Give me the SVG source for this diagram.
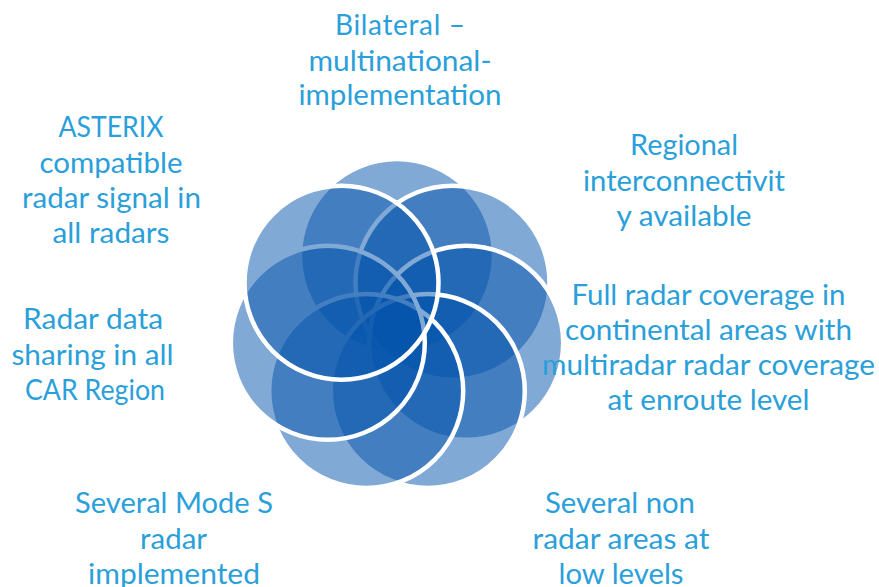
<svg xmlns="http://www.w3.org/2000/svg" width="879" height="587" viewBox="0 0 879 587">
<style>
.c{fill:#0353AB;fill-opacity:0.5;stroke:#FFFFFF;stroke-width:4.5}
.t{font-family:Lato,"Liberation Sans",sans-serif;font-size:28px;fill:#2A9FDA;text-anchor:middle}
</style>
<rect width="879" height="587" fill="#FFFFFF"/>
<g id="node-bilateral">
<circle class="c" cx="397" cy="256" r="97"/>
<text class="t" lengthAdjust="spacingAndGlyphs"><tspan x="400" y="35" textLength="130">Bilateral –</tspan></text>
<text class="t"><tspan x="400" y="70.5" textLength="183" lengthAdjust="spacingAndGlyphs">multinational-</tspan></text>
<text class="t"><tspan x="400" y="105" textLength="203" lengthAdjust="spacingAndGlyphs">implementation</tspan></text>
</g>
<g id="node-regional">
<circle class="c" cx="452.5" cy="282.7" r="97"/>
<text class="t" x="684" y="155" textLength="108" lengthAdjust="spacingAndGlyphs">Regional</text>
<text class="t" x="684" y="190.5" textLength="202" lengthAdjust="spacingAndGlyphs">interconnectivit</text>
<text class="t" x="684" y="226" textLength="135" lengthAdjust="spacingAndGlyphs">y available</text>
</g>
<g id="node-full-radar">
<circle class="c" cx="466.2" cy="342.8" r="97"/>
<text class="t" x="708.5" y="305" textLength="274" lengthAdjust="spacingAndGlyphs">Full radar coverage in</text>
<text class="t" x="708.5" y="340" textLength="287" lengthAdjust="spacingAndGlyphs">continental areas with</text>
<text class="t" x="708.5" y="375" textLength="333" lengthAdjust="spacingAndGlyphs">multiradar radar coverage</text>
<text class="t" x="708.5" y="410" textLength="202" lengthAdjust="spacingAndGlyphs">at enroute level</text>
</g>
<g id="node-non-radar">
<circle class="c" cx="427.8" cy="391" r="97"/>
<text class="t" x="620" y="513" textLength="150" lengthAdjust="spacingAndGlyphs">Several non</text>
<text class="t" x="621" y="548.5" textLength="177" lengthAdjust="spacingAndGlyphs">radar areas at</text>
<text class="t" x="621" y="584" textLength="125" lengthAdjust="spacingAndGlyphs">low levels</text>
</g>
<g id="node-mode-s">
<circle class="c" cx="366.2" cy="391" r="97"/>
<text class="t" x="174" y="513" textLength="198" lengthAdjust="spacingAndGlyphs">Several Mode S</text>
<text class="t" x="173.5" y="548.5" textLength="67" lengthAdjust="spacingAndGlyphs">radar</text>
<text class="t" x="174" y="584" textLength="172" lengthAdjust="spacingAndGlyphs">implemented</text>
</g>
<g id="node-data-sharing">
<circle class="c" cx="327.8" cy="342.8" r="97"/>
<text class="t" x="93" y="329" textLength="140" lengthAdjust="spacingAndGlyphs">Radar data</text>
<text class="t" x="92.5" y="364.5" textLength="162" lengthAdjust="spacingAndGlyphs">sharing in all</text>
<text class="t" x="95" y="400" textLength="140" lengthAdjust="spacingAndGlyphs">CAR Region</text>
</g>
<g id="node-asterix">
<circle class="c" cx="341.5" cy="282.7" r="97"/>
<text class="t" x="111" y="137" textLength="105" lengthAdjust="spacingAndGlyphs">ASTERIX</text>
<text class="t" x="111" y="172.5" textLength="143" lengthAdjust="spacingAndGlyphs">compatible</text>
<text class="t" x="111.5" y="208" textLength="179" lengthAdjust="spacingAndGlyphs">radar signal in</text>
<text class="t" x="111" y="243" textLength="117" lengthAdjust="spacingAndGlyphs">all radars</text>
</g>
</svg>
